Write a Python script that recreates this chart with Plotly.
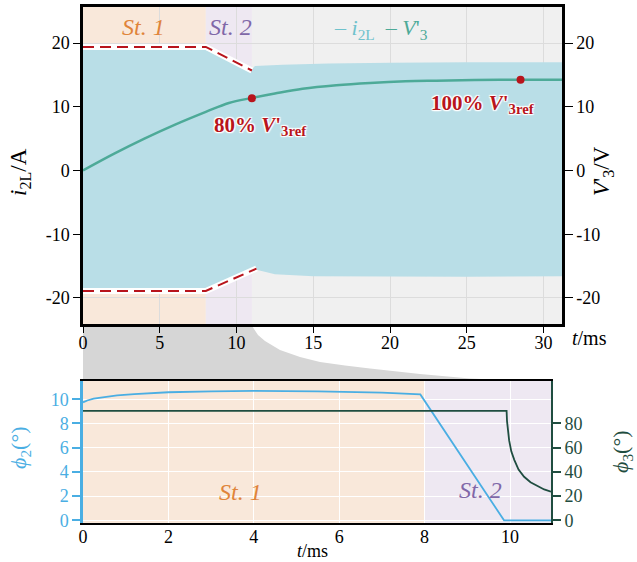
import plotly.graph_objects as go

W, H = 637, 562
FONT = "Liberation Serif, Times New Roman, Times, serif"

# ---------------- data (top panel) ----------------
t_up = [0, 8, 11, 11.2, 13, 16, 20, 25, 31.2]
i_up = [18.9, 18.9, 15.9, 16.4, 16.6, 16.8, 16.9, 17.0, 17.0]
t_lo = [0, 8, 11.3, 12.5, 15, 20, 25, 31.2]
i_lo = [-18.8, -18.8, -15.6, -16.3, -16.6, -16.7, -16.7, -16.6]

t_env_up = [0, 8, 11]
env_up = [19.4, 19.4, 15.7]
t_env_lo = [0, 8, 11.3]
env_lo = [-18.9, -18.9, -15.4]

t_v3 = [0, 2, 4, 6, 8, 9.5, 11, 12.5, 14.3, 16.5, 18.7, 21, 23, 25.5, 28.5, 31.2]
v3 = [0, 2.6, 5.0, 7.2, 9.2, 10.6, 11.4, 12.1, 12.85, 13.4, 13.75, 14.0, 14.1, 14.2, 14.25, 14.25]

t_marks = [11, 28.5]
v_marks = [11.35, 14.25]
mark_labels = ["80%", "100%"]

top_xticks = [0, 5, 10, 15, 20, 25, 30]
top_yticks = [-20, -10, 0, 10, 20]
top_yticktext = ["-20", "-10", "0", "10", "20"]

# ---------------- data (bottom panel) ----------------
t_phi2 = [0, 0.1, 0.25, 0.5, 0.8, 1.2, 1.6, 2, 3, 4, 5.5, 7, 7.9, 9.86, 11]
phi2 = [9.75, 9.9, 10.05, 10.2, 10.32, 10.43, 10.52, 10.58, 10.65, 10.7, 10.65, 10.55, 10.4, 0, 0]

t_phi3 = [0, 9.92, 9.93, 9.95, 9.98, 10.03, 10.1, 10.2, 10.33, 10.48, 10.65, 10.8, 10.96]
phi3 = [90.5, 90.5, 82, 74, 66, 57, 50, 42, 36, 31.5, 28, 25.5, 23.6]

bot_xticks = [0, 2, 4, 6, 8, 10]
phi2_ticks = [0, 2, 4, 6, 8, 10]
phi3_ticks = [0, 20, 40, 60, 80]

stage_bounds = [0, 8, 11]

# ---------------- colours ----------------
C_BAND = "#B9DEE7"
C_V3 = "#4DAA98"
C_RED = "#B8141C"
C_ORANGE_BG = "#F9E8DA"
C_PURPLE_BG = "#EEE8F2"
C_GRAY_BG = "#F0F0F0"
C_BLUE = "#4AAEE3"
C_DKGREEN = "#1F4D40"
C_ST1 = "#E0843A"
C_ST2 = "#8067A8"


def px(x):
    return x / W


def py(y):
    return 1 - y / H


fig = go.Figure()

# band of i2L (envelope)
fig.add_trace(go.Scatter(
    x=t_up + t_lo[::-1], y=i_up + i_lo[::-1], fill="toself", fillcolor=C_BAND,
    line=dict(width=0), mode="lines", xaxis="x", yaxis="y", hoverinfo="skip"))

# dashed envelopes with white halo
for tt, yy in [(t_env_up, env_up), (t_env_lo, env_lo)]:
    fig.add_trace(go.Scatter(x=tt, y=yy, mode="lines", line=dict(color="white", width=6),
                             xaxis="x", yaxis="y"))
    fig.add_trace(go.Scatter(x=tt, y=yy, mode="lines",
                             line=dict(color=C_RED, width=2, dash="11px,6px"),
                             xaxis="x", yaxis="y"))

# V'3
fig.add_trace(go.Scatter(x=t_v3, y=v3, mode="lines", line=dict(color=C_V3, width=2.5, shape="spline"),
                         xaxis="x", yaxis="y2"))
fig.add_trace(go.Scatter(x=t_marks, y=v_marks, mode="markers", marker=dict(color=C_RED, size=8),
                         xaxis="x", yaxis="y2"))

# bottom
fig.add_trace(go.Scatter(x=t_phi2, y=phi2, mode="lines", line=dict(color=C_BLUE, width=1.8),
                         xaxis="x2", yaxis="y3"))
fig.add_trace(go.Scatter(x=t_phi3, y=phi3, mode="lines", line=dict(color=C_DKGREEN, width=1.8),
                         xaxis="x2", yaxis="y4"))

shapes = []
# zoom connector (gray)
pts = [(83, 324), (251, 324), (254, 329), (258, 335), (265, 341), (280, 350), (300, 357), (320, 362),
       (345, 365.5), (370, 368.5), (420, 374), (470, 378.5), (510, 380.3), (551, 381), (83, 381)]
path = "M " + " L ".join(f"{px(a):.5f},{py(b):.5f}" for a, b in pts) + " Z"
shapes.append(dict(type="path", path=path, xref="paper", yref="paper", fillcolor="#D6D6D6",
                   line=dict(width=0), layer="below"))

# stage backgrounds
for xr, yr in [("x", "y"), ("x2", "y3")]:
    shapes.append(dict(type="rect", xref=xr, yref=yr + " domain", x0=stage_bounds[0], x1=stage_bounds[1],
                       y0=0, y1=1, fillcolor=C_ORANGE_BG, line=dict(width=0), layer="below"))
    shapes.append(dict(type="rect", xref=xr, yref=yr + " domain", x0=stage_bounds[1], x1=stage_bounds[2],
                       y0=0, y1=1, fillcolor=C_PURPLE_BG, line=dict(width=0), layer="below"))

fig.update_layout(shapes=shapes)

tf = dict(family=FONT, size=18, color="black")

fig.update_layout(
    width=W, height=H, margin=dict(l=0, r=0, t=0, b=0, pad=0), autosize=False,
    paper_bgcolor="white", plot_bgcolor=C_GRAY_BG, showlegend=False,
    font=dict(family=FONT),
    xaxis=dict(domain=[px(83), px(562)], range=[0, 31.2], tickvals=top_xticks, showgrid=True,
               gridcolor="#DCDCDC", gridwidth=1, zeroline=False, showline=True, linecolor="black",
               linewidth=2.5, mirror=True, ticks="outside", ticklen=6, tickcolor="black",
               tickfont=tf, anchor="y", automargin=False, ticklabelstandoff=-5),
    yaxis=dict(domain=[py(324), py(7)], range=[-24.1, 25.67], tickvals=top_yticks, ticktext=top_yticktext,
               showgrid=True, gridcolor="#DCDCDC", zeroline=False, showline=True, linecolor="black",
               linewidth=2.5, ticks="outside", ticklen=7, tickcolor="black", tickfont=tf, anchor="x",
               automargin=False),
    yaxis2=dict(overlaying="y", side="right", range=[-24.1, 25.67], tickvals=top_yticks,
                ticktext=top_yticktext, showgrid=False, zeroline=False, showline=True, linecolor="black",
                linewidth=2.5, ticks="outside", ticklen=8, tickcolor="black", tickfont=tf, anchor="x",
                automargin=False),
    xaxis2=dict(domain=[px(83), px(551)], range=[0, 10.96], tickvals=bot_xticks, showgrid=True,
                gridcolor="white", gridwidth=1, zeroline=False, showline=True, linecolor="black",
                linewidth=1.8, mirror=True, ticks="", tickfont=tf, anchor="y3", automargin=False,
                ticklabelstandoff=-4),
    yaxis3=dict(domain=[py(523), py(381)], range=[-0.22, 11.51], tickvals=phi2_ticks, showgrid=True,
                gridcolor="white", zeroline=False, showline=True, linecolor=C_BLUE, linewidth=2.5,
                ticks="outside", ticklen=8, tickcolor=C_BLUE, tickwidth=2,
                tickfont=dict(family=FONT, size=18, color=C_BLUE), anchor="x2", automargin=False),
    yaxis4=dict(overlaying="y3", side="right", range=[-2.2, 115.1], tickvals=phi3_ticks, showgrid=False,
                zeroline=False, showline=True, linecolor=C_DKGREEN, linewidth=1.8, ticks="outside",
                ticklen=8, tickcolor=C_DKGREEN, tickwidth=1.5,
                tickfont=dict(family=FONT, size=18, color=C_DKGREEN), anchor="x2", automargin=False),
)

glow = "1px 1px 1px white, -1px -1px 1px white, 1px -1px 1px white, -1px 1px 1px white, 0 0 3px white"

ann = []


def add_text(x, y, text, size, color, angle=0, weight="normal", shadow=None, xanchor="center"):
    f = dict(family=FONT, size=size, color=color, weight=weight)
    if shadow:
        f["shadow"] = shadow
    ann.append(dict(x=px(x), y=py(y), xref="paper", yref="paper", text=text, showarrow=False,
                    font=f, textangle=angle, xanchor=xanchor, yanchor="middle"))


# axis titles
add_text(20, 172, "<i>i</i><sub>2L</sub>/A", 23, "black", angle=-90)
add_text(603, 171, "<i>V</i>'<sub>3</sub>/V", 23, "black", angle=-90)
add_text(589, 338, "<i>t</i>/ms", 20, "black")
add_text(312, 551, "<i>t</i>/ms", 18, "black")
add_text(20, 448, "<i>ϕ</i><sub>2</sub>(°)", 22, C_BLUE, angle=-90)
add_text(622, 452, "<i>ϕ</i><sub>3</sub>(°)", 22, C_DKGREEN, angle=-90)

# stage labels
add_text(143, 27, "<i>St. 1</i>", 24, C_ST1)
add_text(230, 27, "<i>St. 2</i>", 24, C_ST2)
add_text(240, 492, "<i>St. 1</i>", 24, C_ST1)
add_text(480, 490, "<i>St. 2</i>", 24, C_ST2)

# legend
add_text(381, 29, "<span style='color:#6FC2CC'>– <i>i</i><sub>2L</sub></span>  "
                  "<span style='color:#4DAA98'>– <i>V</i>'<sub>3</sub></span>", 22, C_V3)

# point annotations
add_text(260, 126, f"{mark_labels[0]} <i>V</i>'<sub>3ref</sub>", 21, C_RED, weight="bold", shadow=glow)
add_text(483, 104, f"{mark_labels[1]} <i>V</i>'<sub>3ref</sub>", 21, C_RED, weight="bold", shadow=glow)

fig.update_layout(annotations=ann)

fig.write_html("out.html")
